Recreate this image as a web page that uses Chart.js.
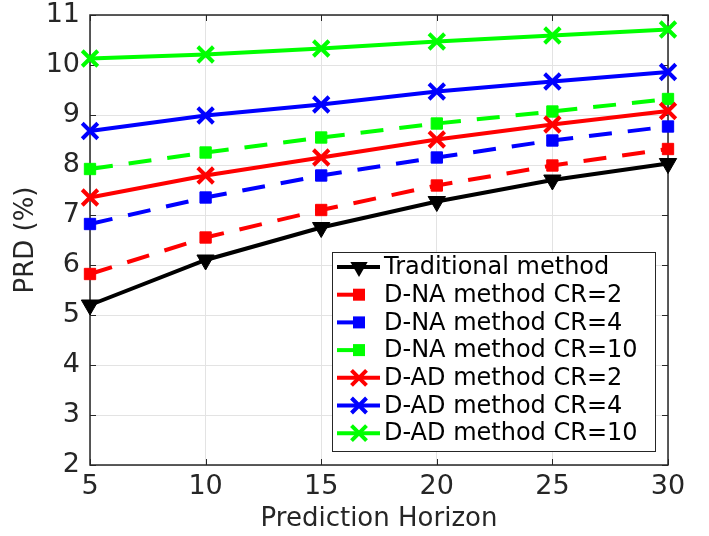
<!DOCTYPE html>
<html>
<head>
<meta charset="utf-8">
<title>PRD vs Prediction Horizon</title>
<script src="https://cdn.jsdelivr.net/npm/chart.js@4.4.1/dist/chart.umd.min.js"></script>
<style>
    html, body { margin: 0; padding: 0; background: #ffffff; }
    #wrap { width: 709px; height: 536px; }
</style>
</head>
<body>
<div id="wrap"><canvas id="prdChart" width="709" height="536"></canvas></div>
<script>
// Values
const horizons = [5, 10, 15, 20, 25, 30];
const xTicks = [5, 10, 15, 20, 25, 30];
const yTicks = [2, 3, 4, 5, 6, 7, 8, 9, 10, 11];

const traditional = [5.20, 6.10, 6.75, 7.27, 7.70, 8.03];
const naCR2 = [5.82, 6.55, 7.10, 7.59, 7.99, 8.32];
const naCR4 = [6.82, 7.35, 7.79, 8.15, 8.49, 8.77];
const naCR10 = [7.92, 8.25, 8.55, 8.83, 9.07, 9.32];
const adCR2 = [7.35, 7.79, 8.15, 8.51, 8.81, 9.08];
const adCR4 = [8.68, 8.99, 9.21, 9.47, 9.67, 9.86];
const adCR10 = [10.13, 10.21, 10.33, 10.47, 10.59, 10.71];

const seriesLabels = [
    'Traditional method',
    'D-NA method CR=2',
    'D-NA method CR=4',
    'D-NA method CR=10',
    'D-AD method CR=2',
    'D-AD method CR=4',
    'D-AD method CR=10'
];

const FONT = "'DejaVu Sans', 'Liberation Sans', Arial, sans-serif";
const AXIS_COLOR = '#262626';
const DASH = [23, 16];

// Build one line dataset
function makeSeries(label, values, color, marker, dashed, index) {
    const ds = {
        label: label,
        data: horizons.map((x, i) => ({ x: x, y: values[i] })),
        borderColor: color,
        backgroundColor: color,
        borderWidth: 4,
        borderDash: dashed ? DASH : [],
        pointBorderColor: color,
        pointBackgroundColor: color,
        tension: 0,
        clip: false,
        order: 10 - index,
        markerType: marker,
        dashed: dashed
    };
    if (marker === 'tri') {
        ds.pointStyle = 'triangle';
        ds.pointRotation = 180;
        ds.pointRadius = 10;
        ds.pointBorderWidth = 1;
    } else if (marker === 'sq') {
        ds.pointStyle = 'rect';
        ds.pointRadius = 8;
        ds.pointBorderWidth = 1;
    } else {
        ds.pointStyle = 'crossRot';
        ds.pointRadius = 11;
        ds.pointBorderWidth = 4;
    }
    return ds;
}

const datasets = [
    makeSeries(seriesLabels[0], traditional, '#000000', 'tri', false, 0),
    makeSeries(seriesLabels[1], naCR2, '#ff0000', 'sq', true, 1),
    makeSeries(seriesLabels[2], naCR4, '#0000ff', 'sq', true, 2),
    makeSeries(seriesLabels[3], naCR10, '#00ff00', 'sq', true, 3),
    makeSeries(seriesLabels[4], adCR2, '#ff0000', 'x', false, 4),
    makeSeries(seriesLabels[5], adCR4, '#0000ff', 'x', false, 5),
    makeSeries(seriesLabels[6], adCR10, '#00ff00', 'x', false, 6)
];

// Draw one marker for the legend sample
function drawMarker(ctx, type, x, y, color) {
    ctx.save();
    ctx.fillStyle = color;
    ctx.strokeStyle = color;
    ctx.setLineDash([]);
    if (type === 'tri') {
        const r = 10;
        ctx.beginPath();
        ctx.moveTo(x, y + r);
        ctx.lineTo(x - r * 0.866, y - r / 2);
        ctx.lineTo(x + r * 0.866, y - r / 2);
        ctx.closePath();
        ctx.fill();
    } else if (type === 'sq') {
        ctx.fillRect(x - 6, y - 6, 12, 12);
    } else {
        const a = 7.5;
        ctx.lineWidth = 4;
        ctx.beginPath();
        ctx.moveTo(x - a, y - a);
        ctx.lineTo(x + a, y + a);
        ctx.moveTo(x + a, y - a);
        ctx.lineTo(x - a, y + a);
        ctx.stroke();
    }
    ctx.restore();
}

// Box around the axes and inward ticks, MATLAB style
const axesBox = {
    id: 'axesBox',
    beforeDatasetsDraw(chart) {
        const { ctx, chartArea } = chart;
        const xs = chart.scales.x;
        const ys = chart.scales.y;
        const len = 6;
        ctx.save();
        ctx.strokeStyle = AXIS_COLOR;
        ctx.lineWidth = 1.5;
        ctx.strokeRect(chartArea.left, chartArea.top,
            chartArea.right - chartArea.left, chartArea.bottom - chartArea.top);
        ctx.lineWidth = 1;
        ctx.beginPath();
        xTicks.forEach(v => {
            const px = Math.round(xs.getPixelForValue(v)) + 0.5;
            ctx.moveTo(px, chartArea.bottom);
            ctx.lineTo(px, chartArea.bottom - len);
            ctx.moveTo(px, chartArea.top);
            ctx.lineTo(px, chartArea.top + len);
        });
        yTicks.forEach(v => {
            const py = Math.round(ys.getPixelForValue(v)) + 0.5;
            ctx.moveTo(chartArea.left, py);
            ctx.lineTo(chartArea.left + len, py);
            ctx.moveTo(chartArea.right, py);
            ctx.lineTo(chartArea.right - len, py);
        });
        ctx.stroke();
        ctx.restore();
    }
};

// Legend drawn inside the axes, bottom right
const legendBox = {
    id: 'legendBox',
    afterDatasetsDraw(chart) {
        const { ctx, chartArea } = chart;
        const boxW = 323;
        const boxH = 199;
        const left = chartArea.right - 13 - boxW;
        const top = chartArea.bottom - 14 - boxH;
        const rowH = 27.7;

        ctx.save();
        ctx.fillStyle = '#ffffff';
        ctx.fillRect(left, top, boxW, boxH);
        ctx.strokeStyle = AXIS_COLOR;
        ctx.lineWidth = 1;
        ctx.strokeRect(left + 0.5, top + 0.5, boxW, boxH);

        ctx.font = '24px ' + FONT;
        ctx.textBaseline = 'middle';
        ctx.textAlign = 'left';

        chart.data.datasets.forEach((ds, i) => {
            const cy = top + 15 + i * rowH;
            const x0 = left + 5;
            const x1 = left + 48;
            ctx.strokeStyle = ds.borderColor;
            ctx.lineWidth = 4;
            ctx.setLineDash(ds.dashed ? [20, 40] : []);
            ctx.beginPath();
            ctx.moveTo(x0, cy);
            ctx.lineTo(x1, cy);
            ctx.stroke();
            drawMarker(ctx, ds.markerType, left + 27, cy, ds.borderColor);
            ctx.fillStyle = '#000000';
            ctx.fillText(ds.label, left + 52, cy + 1);
        });
        ctx.restore();
    }
};

// Create the Chart.js plot
function createPlot() {
    const ctx = document.getElementById('prdChart').getContext('2d');
    return new Chart(ctx, {
        type: 'line',
        data: { datasets: datasets },
        plugins: [axesBox, legendBox],
        options: {
            responsive: false,
            animation: false,
            layout: { padding: { top: 15, right: 41, left: 0, bottom: 0 } },
            plugins: {
                legend: { display: false },
                tooltip: { enabled: false }
            },
            scales: {
                x: {
                    type: 'linear',
                    min: 5,
                    max: 30,
                    afterBuildTicks: scale => { scale.ticks = xTicks.map(v => ({ value: v })); },
                    afterFit: scale => {
                        scale.height = 71;
                        scale.paddingLeft = 0;
                        scale.paddingRight = 0;
                    },
                    grid: { color: '#e3e3e3', lineWidth: 1, drawTicks: false },
                    border: { display: false },
                    ticks: {
                        padding: 8,
                        color: AXIS_COLOR,
                        maxRotation: 0,
                        font: { family: FONT, size: 27, lineHeight: 1 }
                    },
                    title: {
                        display: true,
                        text: 'Prediction Horizon',
                        color: AXIS_COLOR,
                        padding: { top: 1, bottom: 1 },
                        font: { family: FONT, size: 26, lineHeight: 1.2 }
                    }
                },
                y: {
                    type: 'linear',
                    min: 2,
                    max: 11,
                    afterBuildTicks: scale => { scale.ticks = yTicks.map(v => ({ value: v })); },
                    afterFit: scale => {
                        scale.width = 90;
                        scale.paddingTop = 0;
                        scale.paddingBottom = 0;
                    },
                    grid: { color: '#e3e3e3', lineWidth: 1, drawTicks: false },
                    border: { display: false },
                    ticks: {
                        padding: 10,
                        color: AXIS_COLOR,
                        font: { family: FONT, size: 27, lineHeight: 1 }
                    },
                    title: {
                        display: true,
                        text: 'PRD (%)',
                        color: AXIS_COLOR,
                        padding: { top: 11, bottom: 0 },
                        font: { family: FONT, size: 26, lineHeight: 1.2 }
                    }
                }
            }
        }
    });
}

window.onload = function () {
    createPlot();
};
</script>
</body>
</html>
